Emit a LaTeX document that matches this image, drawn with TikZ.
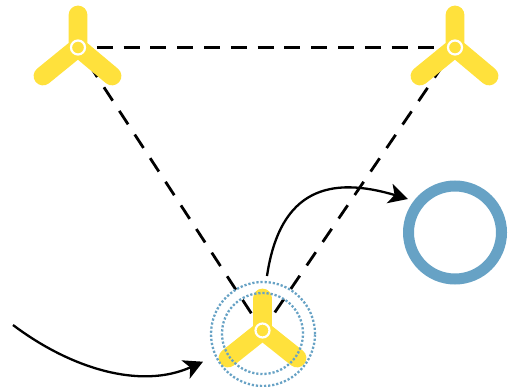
\documentclass[tikz,border=0pt]{standalone}
\usetikzlibrary{arrows.meta}
\definecolor{bladeyellow}{HTML}{FFE13C}
\definecolor{ringblue}{HTML}{67A2C5}
\tikzset{
  arm/.style={line width=18.8pt,line cap=round,draw=bladeyellow},
  hub/.style={circle,draw=white,fill=bladeyellow,line width=2.2pt,minimum size=14pt,inner sep=0pt},
  link/.style={draw=black,line width=2.8pt},
  orbit/.style={circle,draw=ringblue,line width=2.3pt,dash pattern=on 2.2pt off 1.9pt,inner sep=0pt},
  ring/.style={circle,draw=ringblue,line width=11pt,minimum size=93pt,inner sep=0pt},
  flow/.style={draw=black,line width=2.3pt,-{Stealth[length=19pt,width=20pt,inset=5pt]}}
}
\begin{document}
\begin{tikzpicture}[x=1pt,y=-1pt]
\useasboundingbox (0,0) rectangle (510,387);
\coordinate (a) at (78,47.5);
\coordinate (b) at (455,47.5);
\coordinate (c) at (262.5,330.5);
\coordinate (f1) at (13,325);
\coordinate (f2) at (203,361.7);
\coordinate (g1) at (267,276);
\coordinate (g2) at (408,199);
\draw[link,dash pattern=on 16pt off 10.8pt,dash phase=8pt] (a) -- (b);
\draw[link,dash pattern=on 16pt off 12.2pt,dash phase=8.9pt] (a) -- (c);
\draw[link,dash pattern=on 16pt off 12.4pt,dash phase=8pt] (b) -- (c);
\draw[arm] (78,15) -- (a) (43,76) -- (a) (112,76) -- (a);
\draw[arm] (455,15) -- (b) (420,76) -- (b) (489,76) -- (b);
\draw[arm] (262.5,298) -- (c) (228,358) -- (c) (297,358) -- (c);
\node[hub] (ha) at (a) {};
\node[hub] (hb) at (b) {};
\node[hub] (hc) at (c) {};
\node[orbit,minimum size=104pt] (o1) at (263,334) {};
\node[orbit,minimum size=81pt] (o2) at (262.5,333.5) {};
\node[ring] (r) at (455,232.5) {};
\draw[flow] (f1) .. controls (70,368) and (140,390) .. (f2);
\draw[flow] (g1) .. controls (280,188) and (331,176) .. (g2);
\end{tikzpicture}
\end{document}
